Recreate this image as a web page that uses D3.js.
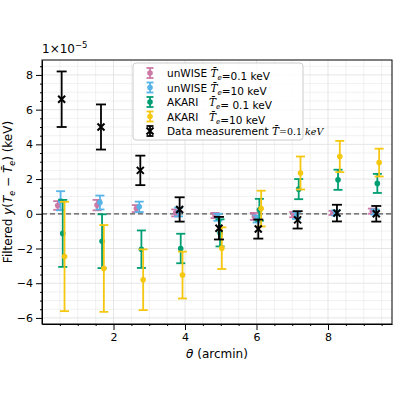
<!DOCTYPE html>
<html><head><meta charset="utf-8">
<script src="https://cdn.jsdelivr.net/npm/d3@7"></script>
<style>body{margin:0;background:#fff}text{font-family:"DejaVu Sans",sans-serif}</style>
</head><body><div id="chart"></div>
<script>
var theta = [0.55, 1.65, 2.75, 3.85, 4.95, 6.05, 7.15, 8.25, 9.35];

var unwiseLowVal = [0.48, 0.5, 0.3, 0.05, -0.1, -0.15, -0.05, 0.05, 0.15];
var unwiseLowErr = [0.25, 0.3, 0.2, 0.2, 0.15, 0.2, 0.15, 0.12, 0.15];
var unwiseHighVal = [0.75, 0.65, 0.4, 0.1, -0.2, -0.3, -0.1, 0.05, 0.1];
var unwiseHighErr = [0.55, 0.4, 0.3, 0.25, 0.2, 0.2, 0.2, 0.15, 0.15];
var akariLowVal = [-1.13, -1.58, -2.04, -2.0, -1.1, 0.23, 1.42, 1.96, 1.75];
var akariLowErr = [1.93, 1.55, 1.08, 0.85, 0.78, 0.63, 0.58, 0.58, 0.55];
var akariHighVal = [-2.46, -3.15, -3.8, -3.53, -1.98, 0.3, 2.35, 3.3, 2.95];
var akariHighErr = [3.15, 2.5, 1.75, 1.35, 1.2, 1.03, 0.95, 0.9, 0.8];
var dataVal = [6.6, 5.0, 2.5, 0.25, -0.83, -0.88, -0.35, 0.04, 0.0];
var dataErr = [1.6, 1.3, 0.85, 0.7, 0.65, 0.55, 0.5, 0.48, 0.45];

var yTicks = [-6, -4, -2, 0, 2, 4, 6, 8];
var xTicks = [2, 4, 6, 8];

var series = [
  {label: "unWISE", te: "0.1 keV", vals: unwiseLowVal, errs: unwiseLowErr, color: "#cc79a7", off: -0.11, marker: "dot"},
  {label: "unWISE", te: "10 keV", vals: unwiseHighVal, errs: unwiseHighErr, color: "#56b4e9", off: -0.03, marker: "dot"},
  {label: "AKARI", te: " 0.1 keV", vals: akariLowVal, errs: akariLowErr, color: "#009e73", off: 0.03, marker: "dot"},
  {label: "AKARI", te: "10 keV", vals: akariHighVal, errs: akariHighErr, color: "#f5c710", off: 0.08, marker: "dot"},
  {label: "Data measurement", te: "0.1 keV", vals: dataVal, errs: dataErr, color: "#000", off: 0, marker: "x"}
];

var width = 400, height = 400;
var margin = {left: 42, right: 8, top: 60, bottom: 76};
var svg = d3.select("#chart").append("svg").attr("width", width).attr("height", height);

var x = d3.scaleLinear().domain([0, 9.79]).range([margin.left, width - margin.right]);
var y = d3.scaleLinear().domain([-6.35, 8.86]).range([height - margin.bottom, margin.top]);

// grid (major + minor)
var xMinor = d3.range(0.5, 9.8, 0.5), yMinor = d3.range(-6, 8.7, 0.5);
svg.append("g").selectAll("line").data(xMinor).join("line")
  .attr("x1", d => x(d)).attr("x2", d => x(d)).attr("y1", y.range()[0]).attr("y2", y.range()[1])
  .attr("stroke", "#e2e2e2").attr("stroke-width", d => d % 2 === 0 ? 0.9 : 0.5);
svg.append("g").selectAll("line").data(yMinor).join("line")
  .attr("y1", d => y(d)).attr("y2", d => y(d)).attr("x1", x.range()[0]).attr("x2", x.range()[1])
  .attr("stroke", "#e2e2e2").attr("stroke-width", d => d % 2 === 0 ? 0.9 : 0.5);

svg.append("line").attr("x1", x.range()[0]).attr("x2", x.range()[1]).attr("y1", y(0)).attr("y2", y(0))
  .attr("stroke", "#555").attr("stroke-width", 1.2).attr("stroke-dasharray", "5,3");

series.forEach(function(s) {
  var g = svg.append("g").attr("stroke", s.color).attr("fill", s.color);
  var sw = 1.8;
  var cap = s.marker === "x" ? 5 : 4.5;
  theta.forEach(function(t, i) {
    var cx = x(t + s.off), v = s.vals[i], e = s.errs[i];
    g.append("line").attr("x1", cx).attr("x2", cx).attr("y1", y(v - e)).attr("y2", y(v + e)).attr("stroke-width", sw);
    [v - e, v + e].forEach(function(yy) {
      g.append("line").attr("x1", cx - cap).attr("x2", cx + cap).attr("y1", y(yy)).attr("y2", y(yy)).attr("stroke-width", sw);
    });
    if (s.marker === "x") {
      g.append("path").attr("d", "M" + (cx - 3.5) + "," + (y(v) - 3.5) + "l7,7M" + (cx + 3.5) + "," + (y(v) - 3.5) + "l-7,7")
        .attr("stroke-width", 2);
    } else {
      g.append("circle").attr("cx", cx).attr("cy", y(v)).attr("r", 2.8).attr("stroke", "none");
    }
  });
});

// axes
svg.append("g").attr("transform", "translate(0," + y.range()[0] + ")")
  .call(d3.axisBottom(x).tickValues(xTicks).tickFormat(d3.format("d")).tickSizeOuter(0));
svg.append("g").attr("transform", "translate(0," + y.range()[0] + ")")
  .call(d3.axisBottom(x).tickValues(xMinor.filter(d => d % 2 !== 0)).tickSize(2).tickFormat(""))
  .select(".domain").remove();
svg.append("g").attr("transform", "translate(" + x.range()[0] + ",0)")
  .call(d3.axisLeft(y).tickValues(yTicks).tickFormat(d3.format("d")).tickSizeOuter(0));
svg.append("g").attr("transform", "translate(" + x.range()[0] + ",0)")
  .call(d3.axisLeft(y).tickValues(yMinor.filter(d => d % 2 !== 0)).tickSize(2).tickFormat(""))
  .select(".domain").remove();
svg.selectAll(".tick text").attr("font-size", 11).attr("fill", "#000");
svg.append("rect").attr("x", x.range()[0]).attr("y", y.range()[1])
  .attr("width", x.range()[1] - x.range()[0]).attr("height", y.range()[0] - y.range()[1])
  .attr("fill", "none").attr("stroke", "#000");

svg.append("text").attr("x", 42).attr("y", 53).attr("font-size", 12)
  .html('1\u00d710<tspan font-size="8.5" dy="-5">\u22125</tspan>');

svg.append("text").attr("x", (x.range()[0] + x.range()[1]) / 2).attr("y", 358).attr("text-anchor", "middle")
  .attr("font-size", 12).html('<tspan font-style="italic">θ</tspan> (arcmin)');
svg.append("text").attr("transform", "translate(12," + ((y.range()[0] + y.range()[1]) / 2) + ") rotate(-90)")
  .attr("text-anchor", "middle").attr("font-size", 12)
  .html('Filtered <tspan font-style="italic">y</tspan>(<tspan font-style="italic">T</tspan><tspan font-size="8" dy="3" font-style="italic">e</tspan><tspan dy="-3"> \u2212 </tspan><tspan font-style="italic">T\u0304</tspan><tspan font-size="8" dy="3" font-style="italic">e</tspan><tspan dy="-3">) (keV)</tspan>');

// legend
var lg = svg.append("g").attr("transform", "translate(133,63)");
lg.append("rect").attr("width", 170).attr("height", 77).attr("rx", 3).attr("fill", "#fff")
  .attr("fill-opacity", 0.85).attr("stroke", "#ccc");
series.forEach(function(s, i) {
  var ry = 10 + i * 14.5;
  var r = lg.append("g").attr("stroke", s.color).attr("fill", s.color);
  r.append("line").attr("x1", 17).attr("x2", 17).attr("y1", ry - 5).attr("y2", ry + 5).attr("stroke-width", 1.8);
  [ry - 5, ry + 5].forEach(yy => r.append("line").attr("x1", 13.5).attr("x2", 20.5).attr("y1", yy).attr("y2", yy).attr("stroke-width", 1.8));
  if (s.marker === "x") r.append("path").attr("d", "M13.5," + (ry - 3.5) + "l7,7M20.5," + (ry - 3.5) + "l-7,7").attr("stroke-width", 2);
  else r.append("circle").attr("cx", 17).attr("cy", ry).attr("r", 2.8).attr("stroke", "none");
  var sub = s.marker === "x" ? "" : '<tspan font-size="7" dy="3" font-style="italic">e</tspan><tspan dy="-3"></tspan>';
  var teTxt = s.marker === "x" ? '<tspan font-family="DejaVu Serif" font-size="9.5">=0.1 <tspan font-style="italic">keV</tspan></tspan>' : "=" + s.te;
  lg.append("text").attr("x", 34).attr("y", ry + 4).attr("font-size", 10.5)
    .html(s.label + (s.label === "AKARI" ? "\u2003" : " ") + '<tspan font-family="DejaVu Serif" font-style="italic">T\u0304</tspan>' + sub + teTxt);
});
</script></body></html>
